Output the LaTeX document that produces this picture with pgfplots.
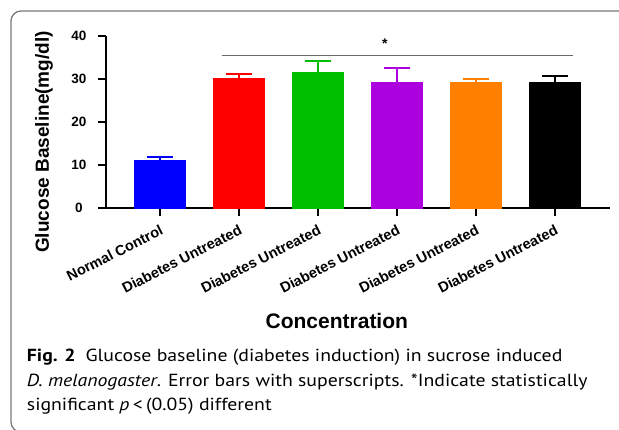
\documentclass[border=0pt]{standalone}
\usepackage{pgfplots}
\pgfplotsset{compat=1.18}
\usepackage{fontspec}
\setmainfont{Liberation Sans}
\newfontfamily\capfont{PT Sans}
\definecolor{cblue}{RGB}{0,0,255}
\definecolor{cred}{RGB}{255,0,0}
\definecolor{cgreen}{RGB}{0,190,0}
\definecolor{cpurple}{RGB}{172,0,222}
\definecolor{corange}{RGB}{255,128,0}
\definecolor{cblack}{RGB}{0,0,0}
\definecolor{framegray}{RGB}{120,120,120}
\definecolor{siggray}{RGB}{105,105,105}

\pgfplotsset{
  gbar/.style={ybar, bar width=51pt, bar shift=0pt, fill=#1, draw=#1, line width=1pt,
    error bars/.cd, y dir=plus, y explicit,
    error bar style={line width=2pt, #1},
    error mark options={rotate=90, line width=2pt, mark size=13pt, #1}},
}

\begin{document}
\begin{tikzpicture}[x=1pt,y=1pt]
\begin{axis}[scale only axis,
  width=504pt, height=172pt,
  xmin=-0.68, xmax=5.7, ymin=0, ymax=40,
  axis x line*=bottom, axis y line*=left,
  axis line style={-, line width=1.8pt},
  tick align=outside, major tick length=8pt,
  tick style={line width=1.8pt, black},
  minor tick num=0,
  xtick={0,1,2,3,4,5},
  xticklabels={Normal Control, Diabetes Untreated, Diabetes Untreated, Diabetes Untreated, Diabetes Untreated, Diabetes Untreated},
  ytick={0,10,20,30,40},
  /pgf/number format/assume math mode=true,
  yticklabel style={font=\bfseries\fontsize{13.5}{15}\selectfont, inner sep=0pt, anchor=center, xshift=-19pt},
  xticklabel style={font=\bfseries\fontsize{14.5}{16}\selectfont, inner sep=0pt, rotate=27, anchor=north east, xshift=-4pt, yshift=-7pt},
  ylabel={Glucose Baseline(mg/dl)},
  ylabel style={at={(axis description cs:-0.123,0.384)}, anchor=center, font=\bfseries\fontsize{19}{22}\selectfont},
  xlabel={Concentration},
  xlabel style={at={(axis description cs:0.458,-0.698)}, anchor=base, font=\bfseries\fontsize{21}{24}\selectfont},
  clip=false]
\addplot[gbar=cblue]   coordinates {(0,11.0) +- (0,0.85)};
\addplot[gbar=cred]    coordinates {(1,30.1) +- (0,1.1)};
\addplot[gbar=cgreen]  coordinates {(2,31.6) +- (0,2.6)};
\addplot[gbar=cpurple] coordinates {(3,29.3) +- (0,3.2)};
\addplot[gbar=corange] coordinates {(4,29.3) +- (0,0.7)};
\addplot[gbar=cblack]  coordinates {(5,29.3) +- (0,1.4)};
% significance bracket
\addplot[siggray, line width=1.4pt] coordinates {(0.785,35.4) (5.23,35.4)};
\node[anchor=base, inner sep=0pt, font=\bfseries\fontsize{14}{16}\selectfont] at (axis cs:2.85,37.2) {*};
\coordinate (O) at (rel axis cs:0,0);
\end{axis}

% everything else is placed relative to the axis corner (106px, 208px in the reference)
\begin{scope}[shift={(O)}, xshift=-106pt, yshift=-221pt]
\draw[framegray, line width=1.3pt, rounded corners=10pt] (640,-3) -- (11,-3) -- (11,418) -- (640,418);
\begin{scope}[every node/.style={anchor=base west, inner sep=0pt, xscale=1.13, font=\capfont\fontsize{17.5}{20}\selectfont}]
\node at (26.7,67.3) {\textbf{Fig. 2}\hspace{0.5em}Glucose baseline (diabetes induction) in sucrose induced};
\node at (26.7,43) {\textit{D. melanogaster}. Error bars with superscripts. *Indicate statistically};
\node at (26.7,18.3) {significant \textit{p}\,<\,(0.05) different};
\end{scope}
\pgfresetboundingbox
\path[use as bounding box] (0,0) rectangle (619,429);
\end{scope}
\end{tikzpicture}
\end{document}
